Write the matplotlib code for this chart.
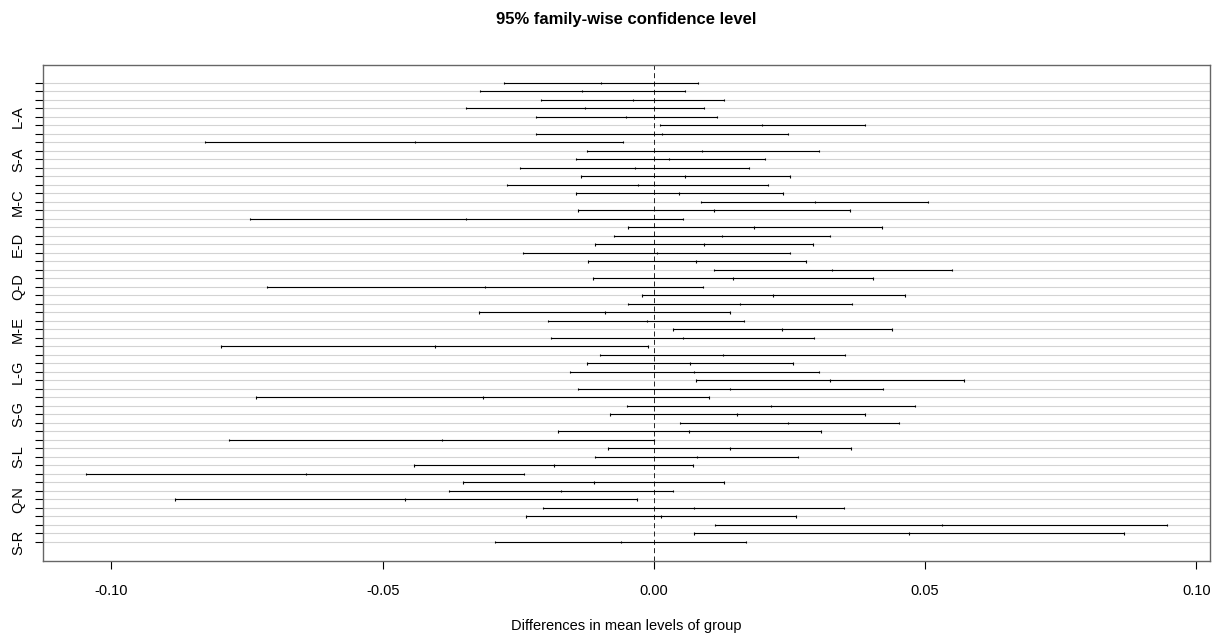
import numpy as np
import matplotlib
matplotlib.use("Agg")
import matplotlib.pyplot as plt

# comparisons, top row first (TukeyHSD order)
comparisons = ["C-A", "D-A", "E-A", "G-A", "L-A", "M-A", "N-A", "Q-A", "R-A", "S-A",
               "D-C", "E-C", "G-C", "L-C", "M-C", "N-C", "Q-C", "R-C", "S-C",
               "E-D", "G-D", "L-D", "M-D", "N-D", "Q-D", "R-D", "S-D",
               "G-E", "L-E", "M-E", "N-E", "Q-E", "R-E", "S-E",
               "L-G", "M-G", "N-G", "Q-G", "R-G", "S-G",
               "M-L", "N-L", "Q-L", "R-L", "S-L",
               "N-M", "Q-M", "R-M", "S-M",
               "Q-N", "R-N", "S-N",
               "R-Q", "S-Q",
               "S-R"]

diff = [-0.0097, -0.0132, -0.0039, -0.0127, -0.0051, 0.0200, 0.0015, -0.0441, 0.0089, 0.0028,
        -0.0035, 0.0058, -0.0030, 0.0046, 0.0297, 0.0111, -0.0346, 0.0185, 0.0126,
        0.0092, 0.0005, 0.0078, 0.0329, 0.0146, -0.0312, 0.0220, 0.0159,
        -0.0090, -0.0013, 0.0236, 0.0053, -0.0404, 0.0127, 0.0066,
        0.0074, 0.0325, 0.0140, -0.0315, 0.0216, 0.0154,
        0.0248, 0.0065, -0.0391, 0.0140, 0.0080,
        -0.0185, -0.0642, -0.0111, -0.0171,
        -0.0458, 0.0073, 0.0013,
        0.0531, 0.0470,
        -0.0061]

lwr = [-0.0277, -0.0321, -0.0208, -0.0347, -0.0217, 0.0011, -0.0217, -0.0827, -0.0124, -0.0144,
       -0.0246, -0.0135, -0.0270, -0.0144, 0.0086, -0.0139, -0.0744, -0.0047, -0.0073,
       -0.0109, -0.0242, -0.0121, 0.0111, -0.0113, -0.0713, -0.0022, -0.0047,
       -0.0323, -0.0196, 0.0035, -0.0190, -0.0798, -0.0099, -0.0123,
       -0.0155, 0.0078, -0.0140, -0.0733, -0.0050, -0.0081,
       0.0049, -0.0177, -0.0783, -0.0085, -0.0108,
       -0.0443, -0.1046, -0.0352, -0.0377,
       -0.0882, -0.0204, -0.0235,
       0.0113, 0.0073,
       -0.0292]

upr = [0.0081, 0.0058, 0.0130, 0.0093, 0.0116, 0.0389, 0.0247, -0.0057, 0.0304, 0.0205,
       0.0175, 0.0251, 0.0211, 0.0238, 0.0506, 0.0362, 0.0053, 0.0420, 0.0325,
       0.0294, 0.0251, 0.0281, 0.0549, 0.0404, 0.0090, 0.0462, 0.0366,
       0.0140, 0.0166, 0.0439, 0.0296, -0.0011, 0.0352, 0.0256,
       0.0304, 0.0572, 0.0422, 0.0101, 0.0482, 0.0390,
       0.0451, 0.0308, 0.0000, 0.0364, 0.0266,
       0.0072, -0.0240, 0.0130, 0.0035,
       -0.0032, 0.0351, 0.0262,
       0.0945, 0.0867,
       0.0170]

x_ticks = [-0.10, -0.05, 0.00, 0.05, 0.10]
x_tick_labels = ["-0.10", "-0.05", "0.00", "0.05", "0.10"]


def plot_tukey(ax):
    n = len(comparisons)
    # first comparison on top, like R
    yvals = np.arange(n, 0, -1)

    # light gray guide lines at every row
    for y in yvals:
        ax.axhline(y, color="lightgray", lw=0.8, zorder=0)

    # intervals
    ax.hlines(yvals, lwr, upr, color="black", lw=0.8, zorder=2)

    # small vertical marks at lwr, diff and upr
    xs = np.concatenate([lwr, diff, upr])
    ys = np.tile(yvals, 3)
    ax.vlines(xs, ys - 0.12, ys + 0.12, color="black", lw=0.8, zorder=2)

    # zero line
    ax.axvline(0, color="black", lw=0.6, ls=(0, (6, 4)), zorder=1)

    ax.set_xlim(-0.1126, 0.1025)
    ax.set_ylim(-1.2, 57.15)

    ax.set_xticks(x_ticks)
    ax.set_xticklabels(x_tick_labels, fontsize=10.5)
    ax.set_yticks(yvals)
    labels = [c if (i + 1) % 5 == 0 else "" for i, c in enumerate(comparisons)]
    ax.set_yticklabels(labels, rotation=90, va="center", fontsize=10.5)

    ax.tick_params(axis="x", length=6, width=0.8, pad=11, color="black")
    ax.tick_params(axis="y", length=6, width=0.8, pad=7, color="black")

    for spine in ax.spines.values():
        spine.set_color("#666666")
        spine.set_linewidth(1)

    ax.set_xlabel("Differences in mean levels of group", fontsize=10.5, labelpad=15)
    ax.set_title("95% family-wise confidence level", fontsize=12, fontweight="bold", pad=29)


def main():
    plt.rcParams["font.family"] = ["Liberation Sans", "DejaVu Sans"]
    fig = plt.figure(figsize=(12.2, 6.34), dpi=100)
    ax = fig.add_axes([43 / 1220, 1 - 560.7 / 634, (1210 - 43) / 1220, (560.7 - 64.7) / 634])
    plot_tukey(ax)
    fig.savefig("out.png", dpi=100)


if __name__ == "__main__":
    main()
